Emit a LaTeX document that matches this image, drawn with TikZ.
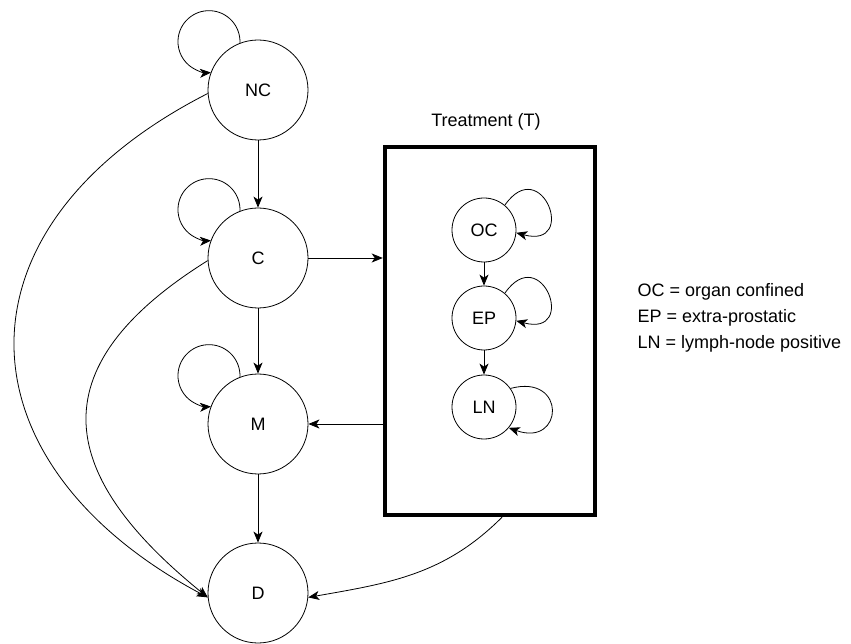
\documentclass[tikz,border=0pt]{standalone}
\usepackage{fontspec}
\setmainfont{Liberation Sans}
\usetikzlibrary{arrows.meta,calc}
\begin{document}
\begin{tikzpicture}[x=1pt,y=1pt,
  every node/.style={font=\fontsize{18}{26}\selectfont},
  big/.style={circle,draw,line width=0.8pt,minimum size=100pt,inner sep=0pt},
  small/.style={circle,draw,line width=0.8pt,minimum size=64pt,inner sep=0pt},
  arr/.style={line width=0.8pt,-{Stealth[length=11pt,width=9pt,inset=3pt]}},
  tbox/.style={draw,line width=4.5pt,minimum width=210pt,minimum height=368pt,inner sep=0pt}]
\useasboundingbox (0,0) rectangle (851,643);
% main chain
\node[big] (NC) at (258,553) {NC};
\node[big] (C)  at (258,385) {C};
\node[big] (M)  at (258,219) {M};
\node[big] (D)  at (258,50)  {D};
% treatment box
\node[tbox] (T) at (490,312) {};
\node (Tl) at (486,521) {Treatment (T)};
\node[small] (OC) at (484,413) {OC};
\node[small] (EP) at (484,325) {EP};
\node[small] (LN) at (484,236) {LN};
% legend
\node[anchor=west,align=left] (leg) at (634,325) {OC = organ confined\\EP = extra-prostatic\\LN = lymph-node positive};
% straight arrows
\draw[arr] (NC) -- (C);
\draw[arr] (C) -- (M);
\draw[arr] (M) -- (D);
\draw[arr] (OC) -- (EP);
\draw[arr] (EP) -- (LN);
\draw[arr] (C.east) -- (C.east -| T.west);
\draw[arr] (T.west |- M.east) -- (M.east);
% self loops (left)
\draw[arr] (NC.111) arc[start angle=-2.4, end angle=273.7, radius=31];
\draw[arr] (C.111) arc[start angle=-2.4, end angle=273.7, radius=31];
\draw[arr] (M.111) arc[start angle=-2.4, end angle=273.7, radius=31];
% self loops (right)
\draw[arr] (OC.50) to[out=55,in=-15,looseness=5.5] (OC.-5);
\draw[arr] (EP.50) to[out=55,in=-15,looseness=5.5] (EP.-5);
\draw[arr] (LN.35) to[out=15,in=-20,looseness=3.8] (LN.-40);
% long curves
\draw[arr] (NC.184) to[out=207,in=152,out distance=295pt,in distance=285pt] (D.185);
\draw[arr] (C.183) to[out=212,in=141,out distance=206pt,in distance=190pt] (D.185);
\draw[arr] ([xshift=12pt]T.south) to[out=225,in=10,looseness=1] (D.-5);
\end{tikzpicture}
\end{document}
